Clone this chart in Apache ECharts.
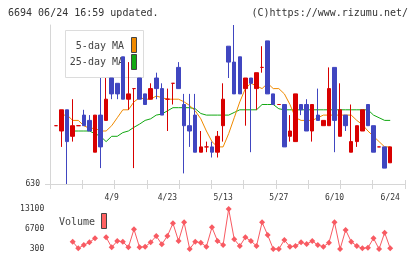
<!DOCTYPE html>
<html>
<head>
<meta charset="utf-8">
<script src="https://cdn.jsdelivr.net/npm/echarts@6/dist/echarts.min.js"></script>
<style>
  html, body { margin: 0; padding: 0; background: #fff; }
  #chart { width: 420px; height: 259px; }
</style>
</head>
<body>
<div id="chart"></div>
<script>
  // 日付（営業日）
  var dates = [
    '3/26', '3/27', '3/28', '3/29', '4/1', '4/2', '4/3', '4/4', '4/5', '4/8',
    '4/9', '4/10', '4/11', '4/12', '4/15', '4/16', '4/17', '4/18', '4/19', '4/22',
    '4/23', '4/24', '4/25', '4/26', '4/30', '5/1', '5/2', '5/7', '5/8', '5/9',
    '5/13', '5/14', '5/15', '5/16', '5/17', '5/20', '5/21', '5/22', '5/23', '5/24',
    '5/27', '5/28', '5/29', '5/30', '5/31', '6/3', '6/4', '6/5', '6/6', '6/7',
    '6/10', '6/11', '6/12', '6/13', '6/14', '6/17', '6/18', '6/19', '6/20', '6/21',
    '6/24'
  ];
  // 横軸に表示する日付
  var labelDates = ['4/9', '4/23', '5/13', '5/27', '6/10', '6/24'];

  // 四本値
  var opens = [
    641, 640, 644, 639, 641, 643, 642, 636, 643, 642,
    650, 649, 654, 646, 648, 650, 647, 646, 650, 648,
    646, 649, 652, 645, 641, 643, 636, 637, 637, 636,
    641, 656, 653, 654, 648, 650, 648, 652, 657, 647,
    645, 645, 639, 638, 645, 645, 640, 643, 641, 641,
    652, 639, 643, 636, 638, 640, 645, 641, 637, 637,
    634
  ];
  var closes = [
    641, 644, 638, 641, 641, 641, 640, 643, 637, 646,
    647, 647, 646, 647, 648, 646, 645, 648, 648, 643,
    646, 649, 648, 641, 640, 636, 637, 637, 636, 639,
    646, 653, 647, 647, 650, 649, 651, 652, 647, 645,
    645, 637, 640, 647, 644, 640, 645, 642, 642, 648,
    642, 644, 641, 638, 641, 644, 641, 636, 637, 633,
    637
  ];
  var lows = [
    641, 637, 630, 638, 641, 641, 640, 636, 633, 642,
    646, 646, 646, 644, 633, 646, 645, 646, 646, 643,
    640, 645, 648, 632, 637, 636, 636, 636, 635, 635,
    638, 650, 647, 647, 641, 636, 644, 651, 647, 645,
    645, 637, 638, 638, 643, 640, 638, 642, 641, 641,
    636, 639, 640, 636, 637, 640, 641, 636, 637, 633,
    634
  ];
  var highs = [
    641, 644, 644, 646, 641, 644, 643, 643, 650, 650,
    650, 649, 654, 653, 648, 650, 647, 649, 651, 649,
    648, 649, 653, 647, 647, 647, 640, 638, 638, 640,
    649, 656, 660, 654, 650, 650, 651, 656, 657, 647,
    645, 645, 643, 647, 645, 646, 645, 648, 642, 652,
    652, 649, 643, 645, 641, 644, 645, 641, 637, 637,
    637
  ];

  // 移動平均
  var ma5 = [
    null, 643, 643, 642, 642, 641, 640.5, 640.5, 640, 640,
    641, 642.5, 644, 644, 645.5, 646.3, 646, 646, 646.6, 646.3,
    646, 646, 646, 645.5, 644.8, 643.8, 642.3, 640, 638, 637,
    637, 639.5, 642.5, 645.5, 648, 649, 648.5, 648, 649, 648,
    648, 647, 645, 642.5, 642, 642, 642, 642.5, 643, 643,
    643, 643, 643, 643, 642, 641.2, 640, 639, 638, 637,
    637
  ];
  var ma25 = [
    null, null, null, 640, 640, 640, 640, 639.5, 639, 638,
    639, 639, 639.7, 640, 640.7, 641.3, 642, 642.3, 643, 643.2,
    643.8, 644.4, 644.4, 644.4, 644.4, 644.2, 643.3, 643, 643, 643,
    643, 643, 643.5, 644, 644, 644, 644, 645, 645, 645,
    644.2, 644, 644, 644, 644, 644, 644, 644, 644, 644,
    644, 644, 644, 644, 644, 644, 644, 643, 642.5, 642,
    642
  ];

  // 出来高
  var volumes = [
    null, null, null, 2640, 520, 1580, 2440, 3720, null, 4040,
    840, 2860, 2640, 840, 6600, 840, 1040, 2440, 4460, 1800,
    4460, 8520, 2860, 8840, 300, 2640, 2320, 1040, 7240, 2860,
    1580, 13100, 3400, 1260, 4040, 2860, 1260, 8840, 4780, 300,
    300, 3180, 1040, 1260, 2440, 1900, 2860, 1580, 1040, 2320,
    8840, 300, 6380, 2640, 1260, 520, 720, 3720, 300, 5520,
    520
  ];

  var FONT = 'DejaVu Sans Mono';
  var RED = '#d80000';
  var BLUE = '#4046c0';
  var ORANGE = '#f08a00';
  var GREEN = '#12a812';
  var VOL = '#f85a62';
  var GRAY = '#d6d6d6';
  var TEXT = '#333';

  // ローソク足データ（同値は赤の十字線）
  var candleData = dates.map(function (d, i) {
    var item = { value: [opens[i], closes[i], lows[i], highs[i]] };
    if (opens[i] === closes[i]) {
      item.itemStyle = { color: RED, color0: RED, borderColor: RED, borderColor0: RED };
    }
    return item;
  });

  var chart = echarts.init(document.getElementById('chart'), null, { renderer: 'canvas' });

  var option = {
    animation: false,
    backgroundColor: '#fff',
    grid: [
      { left: 50, top: 25, width: 355, height: 159 },      // 枠
      { left: 53.2, top: 25, width: 339.8, height: 159 },  // ローソク足
      { left: 53.2, top: 209, width: 339.8, height: 40 }   // 出来高
    ],
    xAxis: [
      {
        gridIndex: 0, type: 'value', min: 0, max: 11, interval: 1,
        axisLine: { lineStyle: { color: GRAY, width: 1 } },
        axisTick: { inside: true, length: 4, lineStyle: { color: GRAY } },
        axisLabel: { show: false }, splitLine: { show: false }
      },
      {
        gridIndex: 0, type: 'value', min: 0, max: 11, interval: 1, position: 'bottom',
        axisLine: { show: false },
        axisTick: { inside: false, length: 5, lineStyle: { color: GRAY } },
        axisLabel: { show: false }, splitLine: { show: false }
      },
      {
        gridIndex: 1, type: 'category', data: dates, boundaryGap: true,
        axisLine: { show: false }, axisTick: { show: false }, splitLine: { show: false },
        axisLabel: {
          interval: function (idx, val) { return labelDates.indexOf(val) >= 0; },
          color: TEXT, fontFamily: FONT, fontSize: 8, margin: 10
        }
      },
      {
        gridIndex: 2, type: 'category', data: dates, boundaryGap: true,
        axisLine: { show: false }, axisTick: { show: false },
        axisLabel: { show: false }, splitLine: { show: false }
      }
    ],
    yAxis: [
      {
        gridIndex: 0, type: 'value', min: 630, max: 660, interval: 30,
        axisLine: { show: true, lineStyle: { color: GRAY, width: 1 } },
        axisTick: { show: true, length: 5, customValues: [630], lineStyle: { color: GRAY } },
        axisLabel: {
          customValues: [630],
          formatter: function (v) { return v === 630 ? '630' : ''; },
          color: TEXT, fontFamily: FONT, fontSize: 8, margin: 10
        },
        splitLine: { show: false }
      },
      { gridIndex: 1, type: 'value', min: 630, max: 660, show: false },
      {
        gridIndex: 2, type: 'value', min: 300, max: 13100, interval: 6400,
        axisLine: { show: false }, axisTick: { show: false }, splitLine: { show: false },
        axisLabel: {
          formatter: function (v) { return String(v); },
          color: TEXT, fontFamily: FONT, fontSize: 8, margin: 9
        }
      }
    ],
    graphic: [
      {
        type: 'text', z: 10,
        style: { x: 8, y: 13, text: '6694 06/24 16:59 updated.', font: '10px ' + FONT, fill: TEXT, verticalAlign: 'middle' }
      },
      {
        type: 'text', z: 10,
        style: { x: 408, y: 13, text: '(C)https://www.rizumu.net/', font: '10px ' + FONT, fill: TEXT, align: 'right', verticalAlign: 'middle' }
      },
      // 移動平均の凡例
      {
        type: 'rect', z: 0,
        shape: { x: 65.5, y: 30.5, width: 78, height: 47 },
        style: { fill: '#fff', stroke: '#dcdcdc', lineWidth: 1 }
      },
      {
        type: 'text', z: 0,
        style: { x: 124, y: 46, text: '5-day MA', font: '10px ' + FONT, fill: '#444', align: 'right', verticalAlign: 'middle' }
      },
      {
        type: 'text', z: 0,
        style: { x: 124, y: 62.5, text: '25-day MA', font: '10px ' + FONT, fill: '#444', align: 'right', verticalAlign: 'middle' }
      },
      {
        type: 'rect', z: 0,
        shape: { x: 131.5, y: 37.5, width: 5, height: 15 },
        style: { fill: ORANGE, stroke: '#444', lineWidth: 1 }
      },
      {
        type: 'rect', z: 0,
        shape: { x: 131.5, y: 54.5, width: 5, height: 15 },
        style: { fill: GREEN, stroke: '#444', lineWidth: 1 }
      },
      // 出来高の凡例
      {
        type: 'text', z: 10,
        style: { x: 59, y: 222, text: 'Volume', font: '10px ' + FONT, fill: '#444', verticalAlign: 'middle' }
      },
      {
        type: 'rect', z: 10,
        shape: { x: 101.5, y: 213.5, width: 5, height: 15 },
        style: { fill: '#ff6262', stroke: '#444', lineWidth: 1 }
      }
    ],
    series: [
      {
        name: '25-day MA', type: 'line', xAxisIndex: 2, yAxisIndex: 1, z: 2,
        data: ma25, symbol: 'none', connectNulls: false,
        lineStyle: { color: GREEN, width: 1 }
      },
      {
        name: '5-day MA', type: 'line', xAxisIndex: 2, yAxisIndex: 1, z: 2,
        data: ma5, symbol: 'none', connectNulls: false,
        lineStyle: { color: ORANGE, width: 1 }
      },
      {
        name: 'price', type: 'candlestick', xAxisIndex: 2, yAxisIndex: 1, z: 5,
        barWidth: 4, data: candleData,
        itemStyle: {
          color: RED, color0: BLUE, borderColor: RED, borderColor0: BLUE,
          borderColorDoji: RED, borderWidth: 1
        }
      },
      {
        name: 'Volume', type: 'line', xAxisIndex: 3, yAxisIndex: 2, z: 5,
        data: volumes, connectNulls: false,
        symbol: 'diamond', symbolSize: 6, showSymbol: true, showAllSymbol: true,
        clip: false,
        itemStyle: { color: VOL }, lineStyle: { color: VOL, width: 1 }
      }
    ]
  };

  chart.setOption(option);
</script>
</body>
</html>
